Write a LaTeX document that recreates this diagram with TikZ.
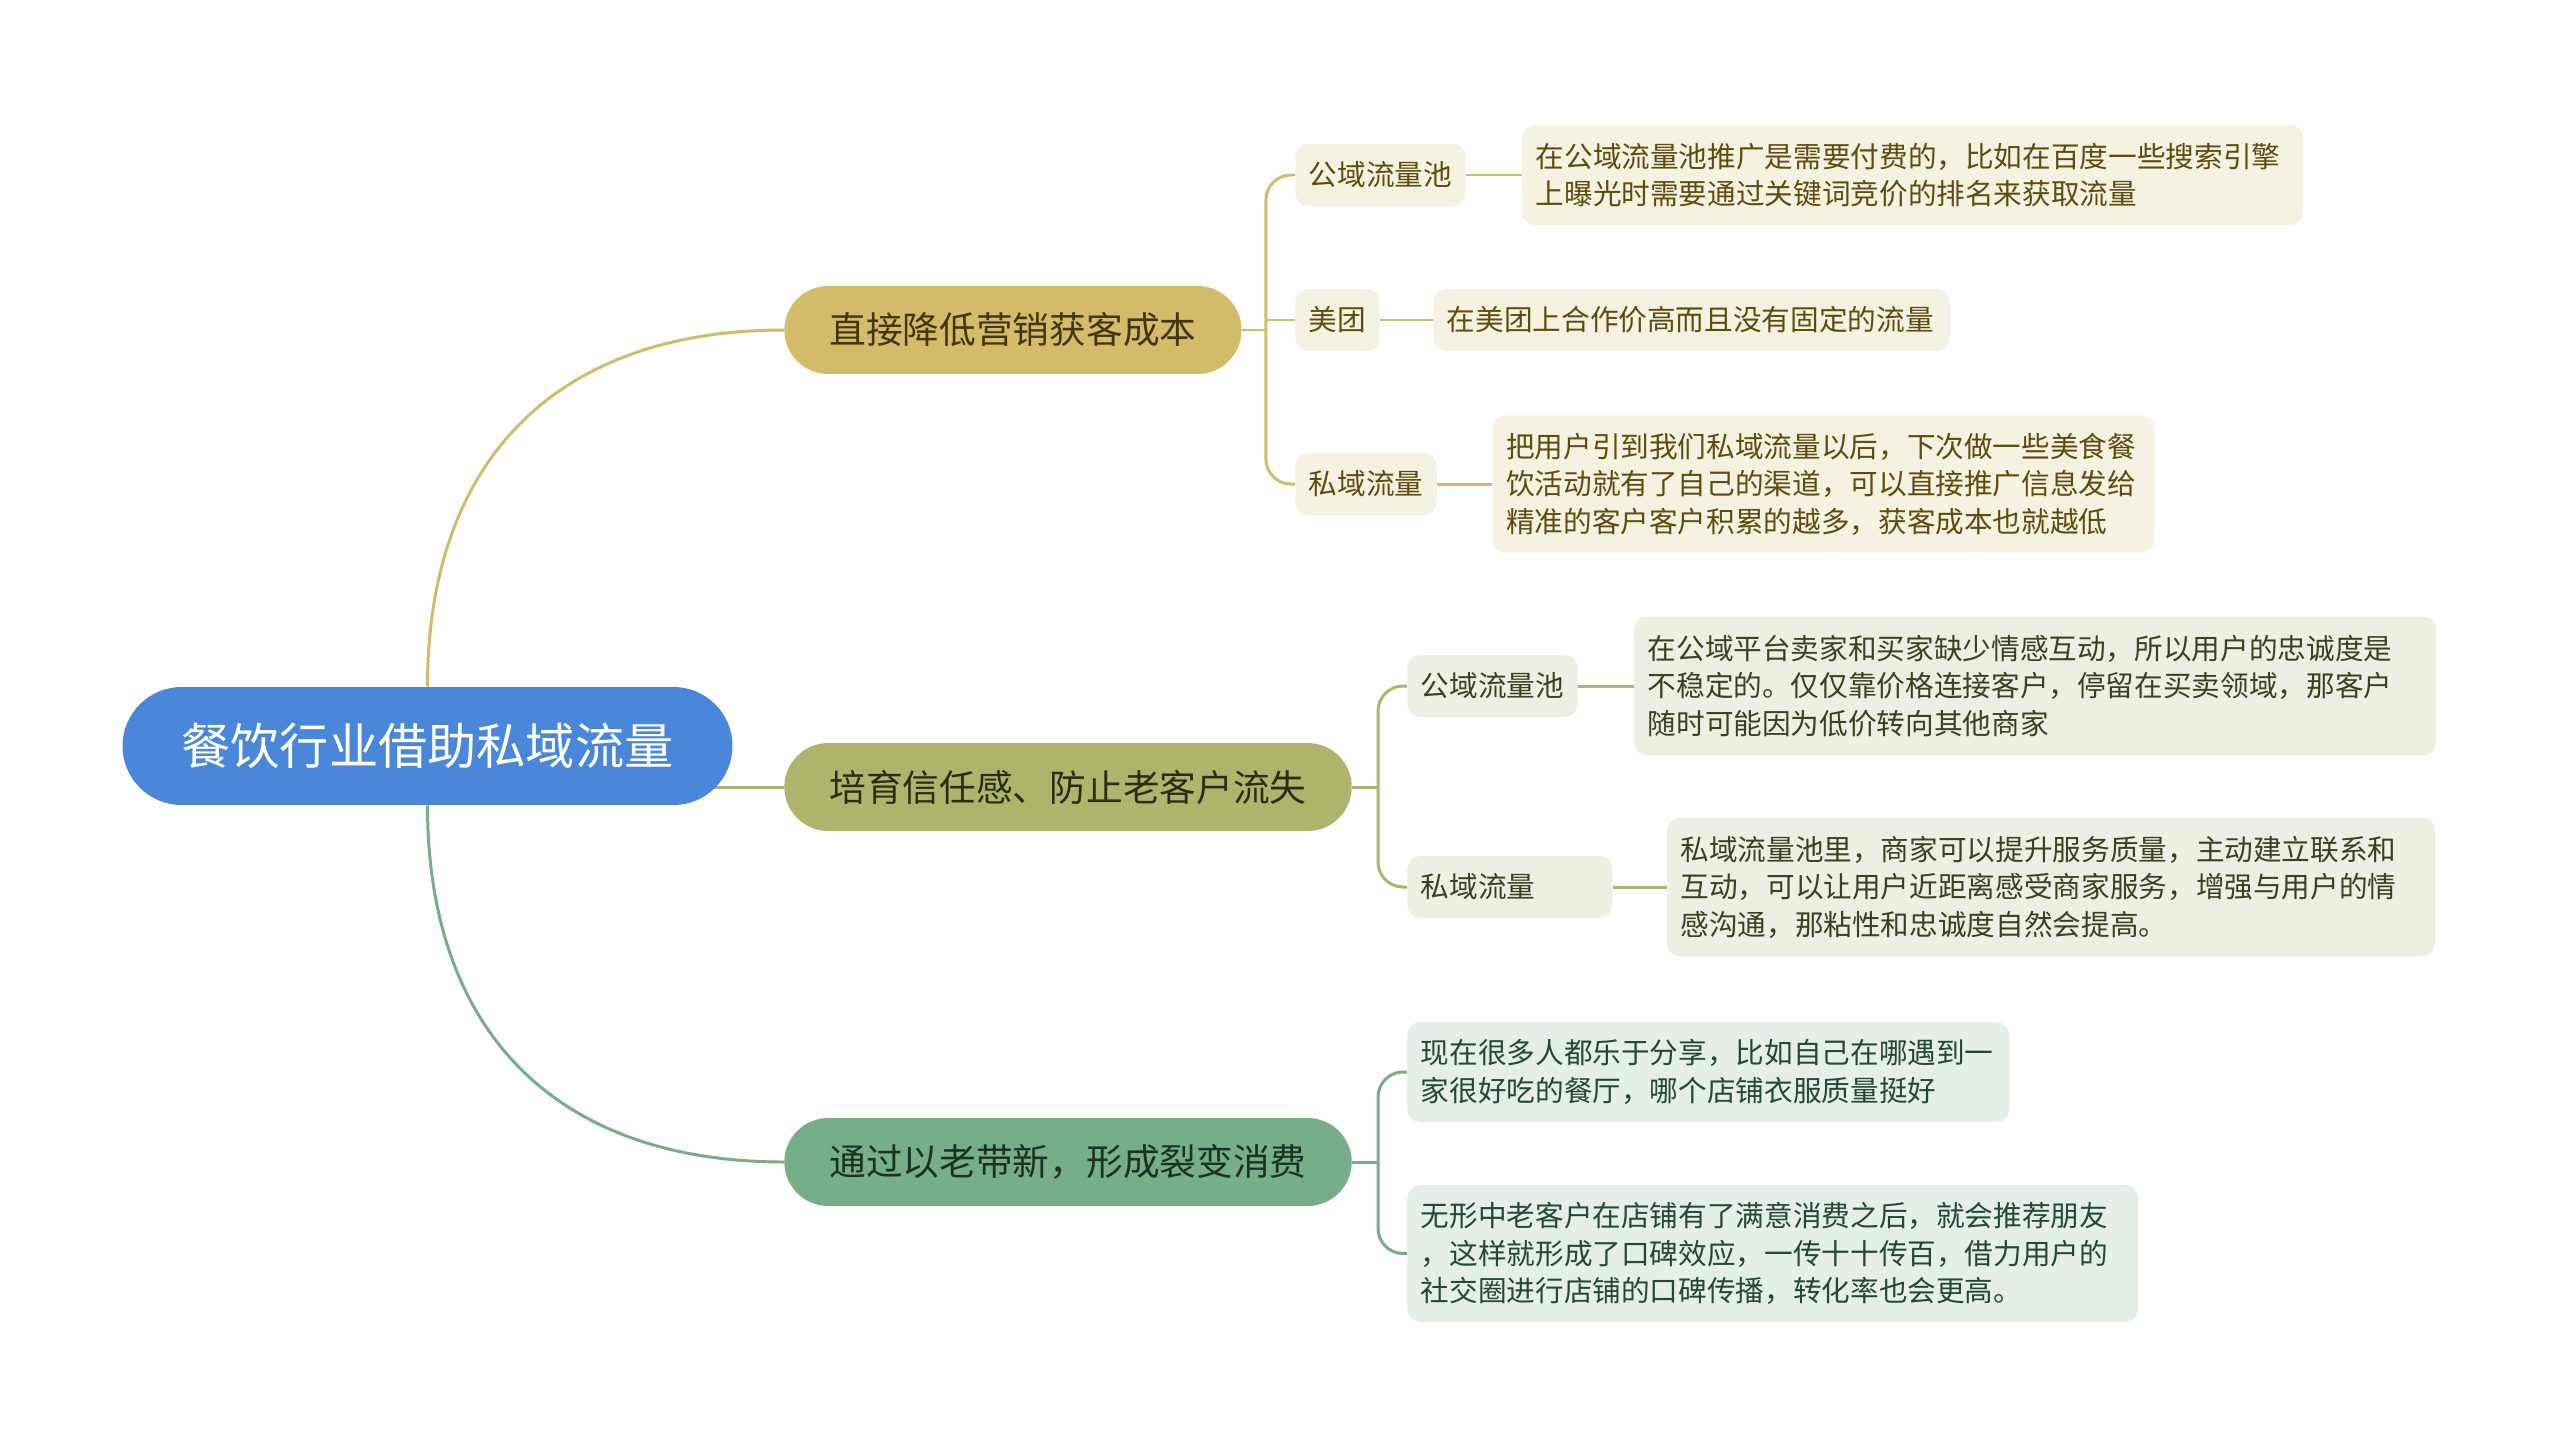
\documentclass[tikz,border=0pt]{standalone}
\usepackage{fontspec}
\newfontfamily\cjk{Noto Sans CJK SC}
\usetikzlibrary{positioning, backgrounds}
\definecolor{rootblue}{HTML}{4A86DA}
\definecolor{gold}{HTML}{D4BB6A}
\definecolor{olive}{HTML}{AEB46C}
\definecolor{green}{HTML}{76AF87}
\definecolor{goldleaf}{HTML}{F6F2E1}
\definecolor{oliveleaf}{HTML}{EEEFE3}
\definecolor{greenleaf}{HTML}{E4EFE8}
\definecolor{goldtext}{HTML}{5F4B0E}
\definecolor{olivetext}{HTML}{3B4021}
\definecolor{greentext}{HTML}{254830}

\begin{document}
\begin{tikzpicture}[
    x=0.02cm, y=-0.02cm,
    topic/.style={
        rectangle, fill=rootblue, rounded corners=1.18cm,
        minimum height=2.36cm, inner xsep=1.18cm, inner ysep=0pt,
        font=\cjk\fontsize{28pt}{34pt}\selectfont, text=white
    },
    branch/.style={
        rectangle, fill=#1, rounded corners=0.88cm,
        minimum height=1.76cm, inner xsep=0.9cm, inner ysep=0pt,
        font=\cjk\fontsize{20.9pt}{26pt}\selectfont, text=#1text!70!black
    },
    sub/.style={
        rectangle, fill=#1leaf, rounded corners=0.26cm,
        minimum height=1.24cm, inner xsep=0.27cm, inner ysep=0pt,
        font=\cjk\fontsize{16.3pt}{21.3pt}\selectfont, text=#1text
    },
    leaf/.style={sub=#1, align=left},
    link/.style={draw=#1, line width=1.7pt},
    bracket/.style={link=#1, rounded corners=0.5cm}
]
\useasboundingbox (0,0) rectangle (2560,1447);

%% ---- Central topic ----
\node[topic] (root) at (427.5,746) {餐饮行业借助私域流量};

%% ---- Branch 1: cost ----
\node[branch=gold, anchor=west] (cost) at (784,330) {直接降低营销获客成本};
\coordinate[right=0.48cm of cost] (costj);

\node[sub=gold, anchor=west] (costpub) at (1295,175) {公域流量池};
\node[leaf=gold, text width=15.08cm, minimum height=2cm, right=1.12cm of costpub] (costpubtxt) {%
    在公域流量池推广是需要付费的，比如在百度一些搜索引擎\\
    上曝光时需要通过关键词竞价的排名来获取流量};

\node[sub=gold, anchor=west] (costmt) at (1295,320) {美团};
\node[leaf=gold, text width=9.8cm, right=1.06cm of costmt] (costmttxt) {%
    在美团上合作价高而且没有固定的流量};

\node[sub=gold, anchor=west] (costpri) at (1295,484) {私域流量};
\node[leaf=gold, text width=12.7cm, minimum height=2.74cm, right=1.1cm of costpri] (costpritxt) {%
    把用户引到我们私域流量以后，下次做一些美食餐\\
    饮活动就有了自己的渠道，可以直接推广信息发给\\
    精准的客户客户积累的越多，获客成本也就越低};

%% ---- Branch 2: trust ----
\node[branch=olive, anchor=west] (trust) at (784,787) {培育信任感、防止老客户流失};
\coordinate[right=0.52cm of trust] (trustj);

\node[sub=olive, anchor=west] (trustpub) at (1407,686) {公域流量池};
\node[leaf=olive, text width=15.5cm, minimum height=2.78cm, right=1.12cm of trustpub] (trustpubtxt) {%
    在公域平台卖家和买家缺少情感互动，所以用户的忠诚度是\\
    不稳定的。仅仅靠价格连接客户，停留在买卖领域，那客户\\
    随时可能因为低价转向其他商家};

\node[sub=olive, anchor=west, minimum width=4.1cm, align=left, text width=3.56cm] (trustpri) at (1407,887) {私域流量};
\node[leaf=olive, text width=14.82cm, minimum height=2.78cm, right=1.08cm of trustpri] (trustpritxt) {%
    私域流量池里，商家可以提升服务质量，主动建立联系和\\
    互动，可以让用户近距离感受商家服务，增强与用户的情\\
    感沟通，那粘性和忠诚度自然会提高。};

%% ---- Branch 3: fission ----
\node[branch=green, anchor=west] (fiss) at (784,1162) {通过以老带新，形成裂变消费};
\coordinate[right=0.52cm of fiss] (fissj);

\node[leaf=green, text width=11.5cm, minimum height=2cm, anchor=west] (fissshare) at (1407,1072) {%
    现在很多人都乐于分享，比如自己在哪遇到一\\
    家很好吃的餐厅，哪个店铺衣服质量挺好};
\node[leaf=green, text width=14.08cm, minimum height=2.74cm, anchor=west] (fissword) at (1407,1253.5) {%
    无形中老客户在店铺有了满意消费之后，就会推荐朋友\\
    ，这样就形成了口碑效应，一传十十传百，借力用户的\\
    社交圈进行店铺的口碑传播，转化率也会更高。};

%% ---- Connectors ----
\begin{scope}[on background layer]
\fill[white] (0,0) rectangle (2560,1447);

\draw[link=gold]  (root.north) to[out=90, in=180, looseness=1.15] (cost.west);
\draw[link=olive] (root.center |- trust.west) -- (trust.west);
\draw[link=green] (root.south) to[out=-90, in=180, looseness=1.15] (fiss.west);

\draw[link=gold] (cost.east) -- (costj);
\draw[bracket=gold] (costj) |- (costpub.west);
\draw[link=gold] (costj |- costmt.west) -- (costmt.west);
\draw[bracket=gold] (costj) |- (costpri.west);
\draw[link=gold] (costpub) -- (costpubtxt);
\draw[link=gold] (costmt) -- (costmttxt);
\draw[link=gold] (costpri) -- (costpritxt);

\draw[link=olive] (trust.east) -- (trustj);
\draw[bracket=olive] (trustj) |- (trustpub.west);
\draw[bracket=olive] (trustj) |- (trustpri.west);
\draw[link=olive] (trustpub) -- (trustpubtxt);
\draw[link=olive] (trustpri) -- (trustpritxt);

\draw[link=green] (fiss.east) -- (fissj);
\draw[bracket=green] (fissj) |- (fissshare.west);
\draw[bracket=green] (fissj) |- (fissword.west);
\end{scope}

\end{tikzpicture}
\end{document}
